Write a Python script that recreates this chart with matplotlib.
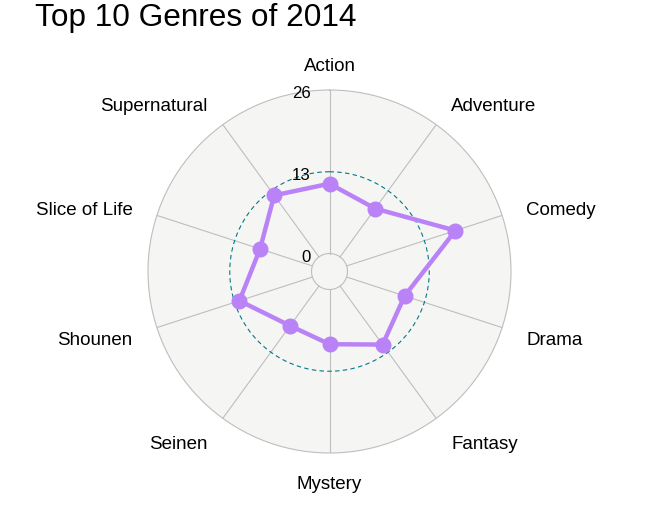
import numpy as np
import matplotlib
matplotlib.use('Agg')
import matplotlib.pyplot as plt

plt.rcParams['font.family'] = ['Liberation Sans', 'DejaVu Sans']

genres = ['Action', 'Adventure', 'Comedy', 'Drama', 'Fantasy', 'Mystery',
          'Seinen', 'Shounen', 'Slice of Life', 'Supernatural']
counts = [11.1, 9.5, 18.2, 9.7, 11.5, 8.7, 7.8, 12.2, 8.75, 12.1]
grid_vals = [0, 13, 26]
grid_labels = ['0', '13', '26']

gmax = 26
hole = 18 / 163.5 * gmax       # empty centre, as in ggradar
label_r = 30.05                # where the genre names sit

grey = '#bebebe'
teal = '#007A87'
purple = '#b983f7'

fig = plt.figure(figsize=(6.59, 5.14), dpi=100)
ax = fig.add_axes([148 / 659, 61 / 514, 363 / 659, 363 / 514], projection='polar')
ax.set_theta_offset(np.pi / 2)
ax.set_theta_direction(-1)
ax.set_ylim(-hole, gmax)
ax.set_facecolor('#f5f5f3')
ax.set_xticks([])
ax.set_yticks([])
ax.grid(False)
ax.spines['polar'].set_color(grey)
ax.spines['polar'].set_linewidth(0.8)

n = len(genres)
theta = np.arange(n) * 2 * np.pi / n

# spokes
for t in theta:
    ax.plot([t, t], [0, gmax], color=grey, lw=0.8, zorder=1)

# inner and mid circles
circ = np.linspace(0, 2 * np.pi, 400)
ax.plot(circ, np.zeros_like(circ), color=grey, lw=0.8, zorder=1)
ax.plot(circ, np.full_like(circ, grid_vals[1]), color=teal, lw=0.8,
        linestyle=(0, (4, 3)), zorder=1)

# data polygon
tt = np.append(theta, theta[0])
vv = np.append(counts, counts[0])
ax.plot(tt, vv, color=purple, lw=3.2, zorder=3, solid_joinstyle='round')
ax.plot(theta, counts, 'o', color=purple, markersize=10.5, zorder=4)

# genre labels (lower ones sit a little further down in the original)
for t, g in zip(theta, genres):
    s = np.sin(t)
    ha = 'left' if s > 0.01 else ('right' if s < -0.01 else 'center')
    dy = -2.0 * (1 - np.cos(t))
    ax.annotate(g, xy=(t, label_r), xytext=(0, dy), textcoords='offset pixels',
                ha=ha, va='center_baseline', fontsize=13.5, annotation_clip=False)

# grid value labels
for v, lab in zip(grid_vals, grid_labels):
    ax.annotate(lab, xy=(0, v), xytext=(-19, -2), textcoords='offset pixels',
                ha='right', va='center_baseline', fontsize=12.1, zorder=5)

fig.text(35 / 659, 1 - 26 / 514, 'Top 10 Genres of 2014', fontsize=22.7,
         ha='left', va='baseline')

fig.savefig('out.png', dpi=100)
